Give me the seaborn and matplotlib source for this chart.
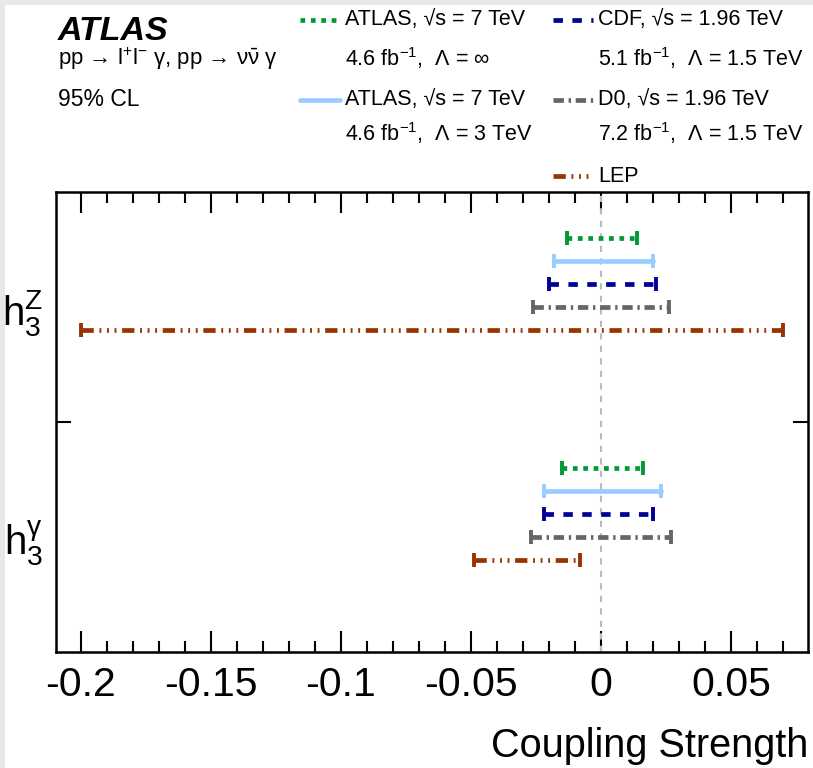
import numpy as np
import pandas as pd
import matplotlib
matplotlib.use("Agg")
import matplotlib.pyplot as plt
import seaborn as sns
from matplotlib.lines import Line2D
from matplotlib.patches import Rectangle
from matplotlib.ticker import MultipleLocator

# ---------------- data ----------------
params = ["h3Z", "h3gamma"]
param_labels = [r"$\mathrm{h}_{3}^{\mathrm{Z}}$", r"$\mathrm{h}_{3}^{\mathrm{γ}}$"]
series = ["ATLAS_inf", "ATLAS_3TeV", "CDF", "D0", "LEP"]
lo_h3Z = [-0.013, -0.018, -0.020, -0.026, -0.20]
hi_h3Z = [0.014, 0.020, 0.021, 0.026, 0.07]
lo_h3g = [-0.015, -0.022, -0.022, -0.027, -0.049]
hi_h3g = [0.016, 0.023, 0.020, 0.027, -0.008]
xticks = [-0.2, -0.15, -0.1, -0.05, 0.0, 0.05]
xtick_labels = ["-0.2", "-0.15", "-0.1", "-0.05", "0", "0.05"]
legend_line1 = ["ATLAS, √s = 7 TeV", "CDF, √s = 1.96 TeV",
                "ATLAS, √s = 7 TeV", "D0, √s = 1.96 TeV", "LEP"]
legend_line2 = [r"4.6 fb$^{\mathrm{-1}}$,  Λ = ∞", r"5.1 fb$^{\mathrm{-1}}$,  Λ = 1.5 TeV",
                r"4.6 fb$^{\mathrm{-1}}$,  Λ = 3 TeV", r"7.2 fb$^{\mathrm{-1}}$,  Λ = 1.5 TeV", ""]
legend_series = ["ATLAS_inf", "CDF", "ATLAS_3TeV", "D0", "LEP"]

# ---------------- styles ----------------
colors = {"ATLAS_inf": "#009933", "ATLAS_3TeV": "#99ccff", "CDF": "#000099",
          "D0": "#666666", "LEP": "#993300"}
dashes = {"ATLAS_inf": (1.0, 1.2), "ATLAS_3TeV": "", "CDF": (2.0, 2.0),
          "D0": (2.2, 1.0, 0.5, 1.0),
          "LEP": (2.6, 1.2, 0.4, 1.2, 0.4, 1.2, 0.4, 1.2)}

sns.set_theme(style="ticks")
FONT = ["Liberation Sans", "DejaVu Sans"]
plt.rcParams["font.family"] = FONT
plt.rcParams["mathtext.fontset"] = "custom"
plt.rcParams["mathtext.rm"] = "Liberation Sans"
plt.rcParams["mathtext.it"] = "Liberation Sans:italic"
plt.rcParams["mathtext.bf"] = "Liberation Sans:bold"
plt.rcParams["text.color"] = "black"
plt.rcParams["axes.labelcolor"] = "black"
plt.rcParams["xtick.color"] = "black"
plt.rcParams["ytick.color"] = "black"

W, H = 813, 768
fig = plt.figure(figsize=(W / 100, H / 100), dpi=100)
fig.patch.set_facecolor("#e8e8e8")
fig.add_artist(Rectangle((5 / W, 0), 1, 1 - 5 / H, transform=fig.transFigure,
                         facecolor="white", edgecolor="none", zorder=-5))

ax = fig.add_axes([56 / W, 1 - 652 / H, 752 / W, 460 / H])

rows = []
for pi, (p, los, his) in enumerate(zip(params, [lo_h3Z, lo_h3g], [hi_h3Z, hi_h3g])):
    for si, s in enumerate(series):
        y = pi + 0.2 + 0.1 * si
        rows.append(dict(param=p, series=s, x=los[si], y=y))
        rows.append(dict(param=p, series=s, x=his[si], y=y))
df = pd.DataFrame(rows)

ax.axvline(0, color="#bbbbbb", lw=1.5, ls=(0, (3, 3)), zorder=1)

sns.lineplot(data=df, x="x", y="y", hue="series", style="series", units="param",
             estimator=None, palette=colors, dashes=dashes, linewidth=3.4,
             legend=False, sort=False, ax=ax, zorder=3)
sns.scatterplot(data=df, x="x", y="y", hue="series", palette=colors, marker="|",
                s=100, linewidth=2.8, legend=False, ax=ax, zorder=4)

ax.set_xlim(-0.2096, 0.0796)
ax.set_ylim(2, 0)

ax.set_xticks(xticks)
ax.set_xticklabels(xtick_labels)
ax.xaxis.set_minor_locator(MultipleLocator(0.01))
ax.tick_params(axis="x", which="major", length=15, width=1.5, direction="in",
               top=True, bottom=True, labelsize=29.5, pad=10, color="black",
               labelcolor="black")
ax.tick_params(axis="x", which="minor", length=8, width=1.5, direction="in",
               top=True, bottom=True, color="black")

ax.set_yticks([0.5, 1.5])
ax.set_yticklabels(param_labels)
ax.set_yticks([1.0], minor=True)
ax.tick_params(axis="y", which="major", length=0, pad=9, labelsize=29,
               labelcolor="black")
ax.tick_params(axis="y", which="minor", length=11, width=1.5, direction="in",
               left=True, right=True, color="black")

for sp in ax.spines.values():
    sp.set_visible(True)
    sp.set_linewidth(1.8)
    sp.set_color("black")

ax.set_xlabel("Coupling Strength", fontsize=28.5, loc="right", color="black")
ax.xaxis.set_label_coords(1.0, -(727 - 652) / 460)
ax.set_ylabel("")

# ---------------- header texts ----------------
fig.text(58 / W, 1 - 31 / H, "ATLAS", fontsize=24.5, fontweight="bold",
         fontstyle="italic", va="center", ha="left")
fig.text(58 / W, 1 - 59 / H, r"pp → l$^{+}$l$^{\mathrm{-}}$ γ, pp → ν$\bar{\mathrm{ν}}$ γ",
         fontsize=16, va="center", ha="left")
fig.text(58 / W, 1 - 100 / H, "95% CL", fontsize=16.5, va="center", ha="left")

# ---------------- legend ----------------
col_x = [300, 553]
row_y = [(20, 58), (100, 133), (176, None)]
positions = [(0, 0), (1, 0), (0, 1), (1, 1), (1, 2)]
for (ci, ri), s, t1, t2 in zip(positions, legend_series, legend_line1, legend_line2):
    x0 = col_x[ci]
    y1, y2 = row_y[ri]
    d = dashes[s]
    ls = "-" if d == "" else (0, d)
    fig.add_artist(Line2D([x0 / W, (x0 + 40) / W], [1 - y1 / H, 1 - y1 / H],
                          color=colors[s], lw=3.4, ls=ls, transform=fig.transFigure))
    fig.text((x0 + 45) / W, 1 - y1 / H, t1, fontsize=15.5, va="center", ha="left")
    if t2:
        fig.text((x0 + 45) / W, 1 - y2 / H, t2, fontsize=15.5, va="center", ha="left")

fig.savefig("out.png", dpi=100, facecolor=fig.get_facecolor())
